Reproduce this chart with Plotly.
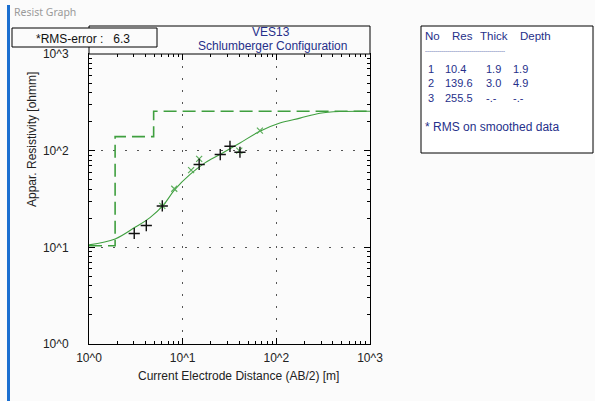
import plotly.graph_objects as go

# ---------------- data ----------------
# measured apparent resistivity (black +)
meas_ab2 = [3.04, 4.09, 6.06, 15.0, 25.2, 32.0, 40.9]
meas_rho = [13.9, 16.8, 26.8, 72.0, 91.2, 111.0, 96.3]
# smoothed data (green x)
smooth_ab2 = [6.06, 8.13, 12.3, 15.0, 40.2, 66.8]
smooth_rho = [26.8, 40.4, 62.9, 82.2, 100.0, 161.0]
# computed model curve (solid green)
curve_ab2 = [1.0, 1.9, 3.1, 4.48, 6.12, 8.28, 12.0, 17.3, 25.0, 40.9, 66.8, 109, 179, 292, 477, 1000]
curve_rho = [10.6, 12.2, 16.1, 20.3, 26.8, 39.8, 56.8, 74.8, 91.3, 120, 159, 193, 217, 244, 254, 255.5]
# layered model
layer_no = ["1", "2", "3"]
layer_res = [10.4, 139.6, 255.5]
layer_thick = [1.9, 3.0, None]
layer_depth = [1.9, 4.9, None]
table_header = ["No", "Res", "Thick", "Depth"]
x_range_max = 1000

ticks_vals = [1, 10, 100, 1000]
ticks_text = ["10^0", "10^1", "10^2", "10^3"]
minor_vals = [m * 10 ** d for d in range(3) for m in range(2, 10)]

rms_text = "*RMS-error :   6.3"
title1 = "VES13"
title2 = "Schlumberger Configuration"

# model step line built from layer table
step_x, step_y = [1.0], [layer_res[0]]
for i, d in enumerate(layer_depth):
    if d is None:
        break
    step_x += [d, d]
    step_y += [layer_res[i], layer_res[i + 1]]
step_x.append(x_range_max)
step_y.append(layer_res[-1])

# ---------------- layout helpers ----------------
W, H = 595, 401
L, R, T, B = 89, 370, 54, 344


def fx(p):
    return (p - L) / (R - L)


def fy(p):
    return (B - p) / (B - T)


GREEN = "#3f9f3f"
NAVY = "#26308a"
FONT = "Liberation Sans, Arial, sans-serif"
FS = 12

fig = go.Figure()
fig.add_trace(go.Scatter(x=step_x, y=step_y, mode="lines",
                         line=dict(color=GREEN, width=1.6, dash="13px,6px"),
                         hoverinfo="skip"))
fig.add_trace(go.Scatter(x=curve_ab2, y=curve_rho, mode="lines",
                         line=dict(color=GREEN, width=1.1, shape="spline"),
                         hoverinfo="skip"))
fig.add_trace(go.Scatter(x=smooth_ab2, y=smooth_rho, mode="markers",
                         marker=dict(symbol="x-thin", size=6,
                                     line=dict(color="#5cae5c", width=1.2))))
fig.add_trace(go.Scatter(x=meas_ab2, y=meas_rho, mode="markers",
                         marker=dict(symbol="cross-thin", size=8,
                                     line=dict(color="#111111", width=1.4))))

axis_common = dict(
    type="log",
    showline=True, linecolor="black", linewidth=1, mirror="ticks",
    ticks="inside", ticklen=6, tickcolor="black",
    tickvals=ticks_vals, ticktext=ticks_text,
    showgrid=True, gridcolor="#555555", griddash="2px,10px", gridwidth=1,
    zeroline=False,
    tickfont=dict(family=FONT, size=FS, color="#222222"),
    minor=dict(ticks="inside", ticklen=3, tickcolor="black",
               tickvals=minor_vals, showgrid=False),
)

fig.update_layout(
    width=W, height=H,
    margin=dict(l=L, r=W - R, t=T, b=H - B),
    paper_bgcolor="#fbfbfb", plot_bgcolor="#fbfbfb",
    showlegend=False,
    xaxis=dict(range=[0, 3], ticklabelstandoff=3, **axis_common),
    yaxis=dict(range=[0, 3], ticklabelstandoff=17, **axis_common),
)

shapes = []
ann = []
# blue window bar
shapes.append(dict(type="rect", xref="paper", yref="paper",
                   x0=fx(7), x1=fx(10), y0=fy(5), y1=fy(401),
                   fillcolor="#1b6fd0", line=dict(width=0), layer="above"))
ann.append(dict(text="Resist Graph", x=fx(12), y=fy(12), xanchor="left", yanchor="middle",
                font=dict(family="Noto Sans, sans-serif", size=10.5, color="#9a9a9a")))
# title box
shapes.append(dict(type="rect", xref="paper", yref="paper",
                   x0=fx(89), x1=fx(370), y0=fy(26), y1=fy(54),
                   fillcolor="#fbfbfb", line=dict(color="black", width=1)))
ann.append(dict(text=title1, x=fx(271), y=fy(32), xanchor="center", yanchor="middle",
                font=dict(family=FONT, size=FS, color=NAVY)))
ann.append(dict(text=title2, x=fx(272), y=fy(46), xanchor="center", yanchor="middle",
                font=dict(family=FONT, size=FS, color=NAVY)))
# RMS box
shapes.append(dict(type="rect", xref="paper", yref="paper",
                   x0=fx(12), x1=fx(157), y0=fy(28), y1=fy(47),
                   fillcolor="#fbfbfb", line=dict(color="black", width=1), layer="above"))
ann.append(dict(text=rms_text, x=fx(83), y=fy(38.5), xanchor="center", yanchor="middle",
                font=dict(family=FONT, size=FS, color="#111111")))
# legend box
shapes.append(dict(type="rect", xref="paper", yref="paper",
                   x0=fx(421), x1=fx(593), y0=fy(26), y1=fy(153),
                   fillcolor="#ffffff", line=dict(color="black", width=1)))
head_x = [423, 450, 478, 518]
for txt, xx in zip(table_header, head_x):
    ann.append(dict(text=txt, x=fx(xx), y=fy(36), xanchor="left", yanchor="middle",
                    font=dict(family=FONT, size=11.5, color=NAVY)))
ann.append(dict(text="-" * 40, x=fx(423), y=fy(51), xanchor="left", yanchor="middle",
                font=dict(family=FONT, size=6, color=NAVY)))
col_x = [426, 443, 484, 511]
cols = [
    layer_no,
    [f"{v:.1f}" for v in layer_res],
    ["-.-" if v is None else f"{v:.1f}" for v in layer_thick],
    ["-.-" if v is None else f"{v:.1f}" for v in layer_depth],
]
for vals, xx in zip(cols, col_x):
    ann.append(dict(text="<br>".join(vals), x=fx(xx), y=fy(61), xanchor="left", yanchor="top",
                    align="left", font=dict(family=FONT, size=11, color=NAVY)))
ann.append(dict(text="* RMS on smoothed data", x=fx(423), y=fy(127), xanchor="left", yanchor="middle",
                font=dict(family=FONT, size=FS, color=NAVY)))
# axis titles
ann.append(dict(text="Current Electrode Distance (AB/2) [m]", x=fx(239), y=fy(376),
                xanchor="center", yanchor="middle",
                font=dict(family=FONT, size=FS, color="#222222")))
ann.append(dict(text="Appar. Resistivity [ohmm]", x=fx(32), y=fy(139), textangle=-90,
                xanchor="center", yanchor="middle",
                font=dict(family=FONT, size=FS, color="#222222")))

for a in ann:
    a.update(xref="paper", yref="paper", showarrow=False)
fig.update_layout(shapes=shapes, annotations=ann)

fig.write_html("out.html")
